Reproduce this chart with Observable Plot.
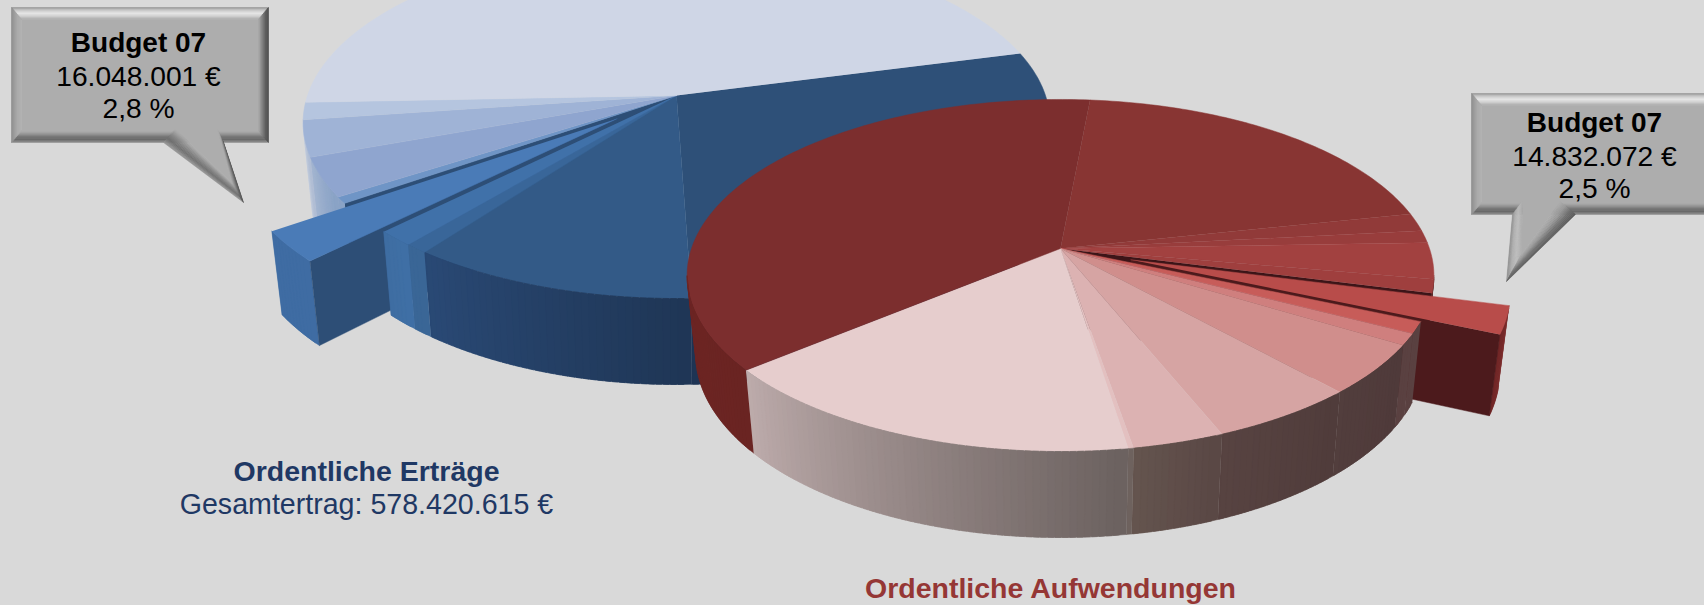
<!DOCTYPE html>
<html lang="de">
<head>
<meta charset="utf-8">
<style>html,body{margin:0;padding:0;background:#d9d9d9;overflow:hidden}svg{display:block}</style>
<script src="https://cdn.jsdelivr.net/npm/d3@7"></script>
<script src="https://cdn.jsdelivr.net/npm/@observablehq/plot@0.6"></script>
</head>
<body>
<script>
// ---- values (percent of total, clockwise) ----
const ertraegeShares = [28.53, 10.78, 0.86, 1.42, 2.8, 0.58, 3.58, 3.33, 1.58, 46.54];
const aufwendungenShares = [20.2, 1.64, 1.14, 3.33, 1.25, 2.5, 1.08, 1.06, 4.61, 5.58, 3.44, 0.2, 16.45, 37.5];
const calloutLines = [["Budget 07", "16.048.001 €", "2,8 %"], ["Budget 07", "14.832.072 €", "2,5 %"]];
const captions = [["Ordentliche Erträge", "Gesamtertrag: 578.420.615 €"], ["Ordentliche Aufwendungen"]];

// ---- styles ----
const ertraegeTop = ["#2e5078","#335a87","#396699","#4071a9","#4a7bb7","#6f95c6","#8fa5cf","#9fb3d6","#b5c5df","#cfd6e6"];
const ertraegeWall = [["#1a2e4c","#1e3454"],["#1f3656","#2a4a76"],["#3a6696","#3a6696"],["#3f6fa5","#3e6ca0"],["#3f6ca3","#3f6ca3"],["#8aa3c6","#8aa3c6"],["#8aa3c6","#a8b8d2"],["#b0bdd4","#dde0e5"],["#dde0e5","#dde0e5"],["#dde0e5","#dde0e5"]];
const aufwTop = ["#883533","#913a39","#983d3c","#a24140","#9f3f3e","#b84c4a","#c75c59","#cf7f7e","#d08e8c","#d6a4a3","#dcb2b2","#e3c0c0","#e6cdcd","#7c2e2e"];
const aufwWall = [["#5a2a2a","#5a2a2a"],["#5a2a2a","#5a2a2a"],["#5a2a2a","#5a2a2a"],["#5a2a2a","#5a2a2a"],["#5a2a2a","#5a2a2a"],["#7a2a2a","#6e2626"],["#5a4141","#5a4141"],["#5a4141","#5a4141"],["#4f3a3a","#523e3d"],["#503c3b","#584442"],["#5a4845","#665650"],["#6e625e","#6e625e"],["#6c6260","#bfadad"],["#6a2422","#7b2c2c"]];

// ---- perspective of the drawn pies ----
const persp = {a: 369, r: 171.9, k: 0.1534, m: 0.023, h: 79.4, vMin: 98.8, vMax: 261.2};
const rad = Math.PI / 180;
const rows = [];
let pid = 0;
function poly(c, pts) { const id = pid++; for (const [x, y] of pts) rows.push({id, c, x, y}); }
function proj(ap, u, v, z) {
  const w = 1 - persp.k * v + persp.m * z;
  return [ap[0] + persp.a * u / w, ap[1] + (persp.r * v + persp.h * z) / w];
}
const uv = (t) => [Math.sin(t * rad), -Math.cos(t * rad)];
function arc(t0, t1) { const n = Math.max(1, Math.ceil(Math.abs(t1 - t0))); return d3.range(n + 1).map(i => t0 + (t1 - t0) * i / n); }
function topFace(ap, t0, t1, off, c) {
  const pts = [proj(ap, off[0], off[1], 0)];
  for (const t of arc(t0, t1)) { const [u, v] = uv(t); pts.push(proj(ap, u + off[0], v + off[1], 0)); }
  poly(c, pts);
}
function wall(ap, t0, t1, off, cs) {
  const a = Math.max(t0, persp.vMin), b = Math.min(t1, persp.vMax);
  if (b <= a) return;
  const ts = arc(a, b), col = d3.interpolateRgb(cs[0], cs[1]);
  for (let i = ts.length - 2; i >= 0; i--) {
    // each strip runs on under its neighbour so no seam shows between them
    const end = Math.min(ts[i + 1] + 0.8, b);
    const [u0, v0] = uv(ts[i]), [um, vm] = uv(ts[i + 1]), [u1, v1] = uv(end);
    poly(col((ts[i] - t0) / (t1 - t0)), [
      proj(ap, u0 + off[0], v0 + off[1], 0), proj(ap, um + off[0], vm + off[1], 0), proj(ap, u1 + off[0], v1 + off[1], 0),
      proj(ap, u1 + off[0], v1 + off[1], 1), proj(ap, um + off[0], vm + off[1], 1), proj(ap, u0 + off[0], v0 + off[1], 1)]);
  }
}
function radial(ap, t, off, c) {
  const [u, v] = uv(t);
  poly(c, [proj(ap, off[0], off[1], 0), proj(ap, u + off[0], v + off[1], 0), proj(ap, u + off[0], v + off[1], 1), proj(ap, off[0], off[1], 1)]);
}
function pie(ap, shares, start, ex, pull, tops, walls, backAfter, holeC, radC) {
  const tot = d3.sum(shares);
  const slices = []; let t = start;
  shares.forEach((s, i) => { const t1 = t + s / tot * 360; slices.push({i, t0: t, t1}); t = t1; });
  const e = slices[ex], zero = [0, 0];
  const mid = (e.t0 + e.t1) / 2, dir = uv(mid), off = [dir[0] * pull, dir[1] * pull];
  const back = slices.filter(s => backAfter ? s.i > ex : s.i < ex);
  const front = slices.filter(s => s.i !== ex && !back.includes(s));
  // hole wall and walls behind the pulled-out slice
  radial(ap, backAfter ? e.t1 : e.t0, zero, holeC);
  back.forEach(s => wall(ap, s.t0, s.t1, zero, walls[s.i]));
  // pulled-out slice
  wall(ap, e.t0, e.t1, off, walls[ex]);
  radial(ap, backAfter ? e.t0 : e.t1, off, radC);
  topFace(ap, e.t0, e.t1, off, tops[ex]);
  // remaining top faces and front walls
  slices.filter(s => s.i !== ex).forEach(s => topFace(ap, s.t0, s.t1, zero, tops[s.i]));
  front.forEach(s => wall(ap, s.t0, s.t1, zero, walls[s.i]));
}
pie([676, 95], ertraegeShares, 75.3, 4, 0.206, ertraegeTop, ertraegeWall, true, "#2d4e76", "#2d4e76");
pie([1060, 248], aufwendungenShares, 5.3, 5, 0.2, aufwTop, aufwWall, false, "#3d1518", "#4c1a1c");

// ---- callouts ----
const faceC = "#adadad";
function stops(list, t) { return d3.piecewise(d3.interpolateRgb, list)(t); }
function band(o0, o1, i0, i1, list) {
  const n = 14;
  for (let j = 0; j < n; j++) {
    const a = j / n, b = (j + 1) / n, L = (p, q, s) => [p[0] + (q[0] - p[0]) * s, p[1] + (q[1] - p[1]) * s];
    poly(stops(list, (a + b) / 2), [L(o0, i0, a), L(o1, i1, a), L(o1, i1, b), L(o0, i0, b)]);
  }
}
function callout(x0, y0, x1, y1, tail, tailIn, tailL, tailR) {
  const l = 10, r = 10, t = 12, b = 12;
  const o = [[x0, y0], [x1, y0], [x1, y1], [x0, y1]], n = [[x0 + l, y0 + t], [x1 - r, y0 + t], [x1 - r, y1 - b], [x0 + l, y1 - b]];
  poly(faceC, n);
  band(o[0], o[1], n[0], n[1], ["#8f8f8f", "#c8c8c8", "#e8e8e8", "#d0d0d0", "#a9a9a9"]);
  band(o[3], o[2], n[3], n[2], ["#9a9a9a", "#6a6a6a", "#707070", "#999999", "#adadad"]);
  band(o[0], o[3], n[0], n[3], ["#8c8c8c", "#9c9c9c", "#aaaaaa", "#b0b0b0"]);
  band(o[1], o[2], n[1], n[2], ["#4a4a4a", "#5c5c5c", "#808080", "#a8a8a8"]);
  band(tail[0], tail[1], tailIn[0], tailIn[1], tailL);
  band(tail[2], tail[1], tailIn[2], tailIn[1], tailR);
  poly(faceC, [tailIn[0], tailIn[1], tailIn[2]]);
}
callout(11, 7, 268, 142,
  [[163, 142], [243, 202], [223, 142]], [[175, 129], [231, 182], [217, 129]],
  ["#9a9a9a", "#6e6e6e", "#8a8a8a", "#adadad"], ["#4e4e4e", "#6a6a6a", "#909090", "#adadad"]);
callout(1471, 93, 1717, 214,
  [[1512, 214], [1506, 281], [1575, 214]], [[1522, 201], [1521, 254], [1560, 201]],
  ["#8c8c8c", "#b0b0b0", "#bdbdbd", "#adadad"], ["#5a5a5a", "#707070", "#9a9a9a", "#adadad"]);

// ---- text ----
const font = "Liberation Sans, Arial, sans-serif";
const textPos = [{x: 138, ys: [43, 76, 108]}, {x: 1594, ys: [123, 156, 188]}];
const calloutText = calloutLines.flatMap((ls, i) => ls.map((text, j) => ({text, x: textPos[i].x, y: textPos[i].ys[j], w: j === 0 ? "bold" : "normal"})));
const captionPos = [{x: 366, ys: [471, 504], c: "#1f3864"}, {x: 1050, ys: [588], c: "#953735"}];
const captionText = captions.flatMap((ls, i) => ls.map((text, j) => ({text, x: captionPos[i].x, y: captionPos[i].ys[j], c: captionPos[i].c, w: j === 0 ? "bold" : "normal"})));
const textMark = (data, w, fill, size) => Plot.text(data.filter(d => d.w === w), {
  x: "x", y: "y", text: "text", fill, fontFamily: font, fontSize: size, fontWeight: w, textAnchor: "middle", lineAnchor: "middle"});

const chart = Plot.plot({
  width: 1704, height: 605, margin: 0,
  style: {background: "#d9d9d9"},
  x: {domain: [0, 1704], range: [0, 1704], axis: null},
  y: {domain: [0, 605], range: [0, 605], axis: null},
  color: {type: "identity"},
  marks: [
    Plot.line(rows, {x: "x", y: "y", z: "id", fill: "c", stroke: "c", strokeWidth: 0.5, strokeLinejoin: "round"}),
    textMark(calloutText, "bold", "#000", 28),
    textMark(calloutText, "normal", "#000", 28.2),
    textMark(captionText, "bold", "c", 28.5),
    textMark(captionText, "normal", "c", 28.6)
  ]
});
document.body.appendChild(chart);
</script>
</body>
</html>
